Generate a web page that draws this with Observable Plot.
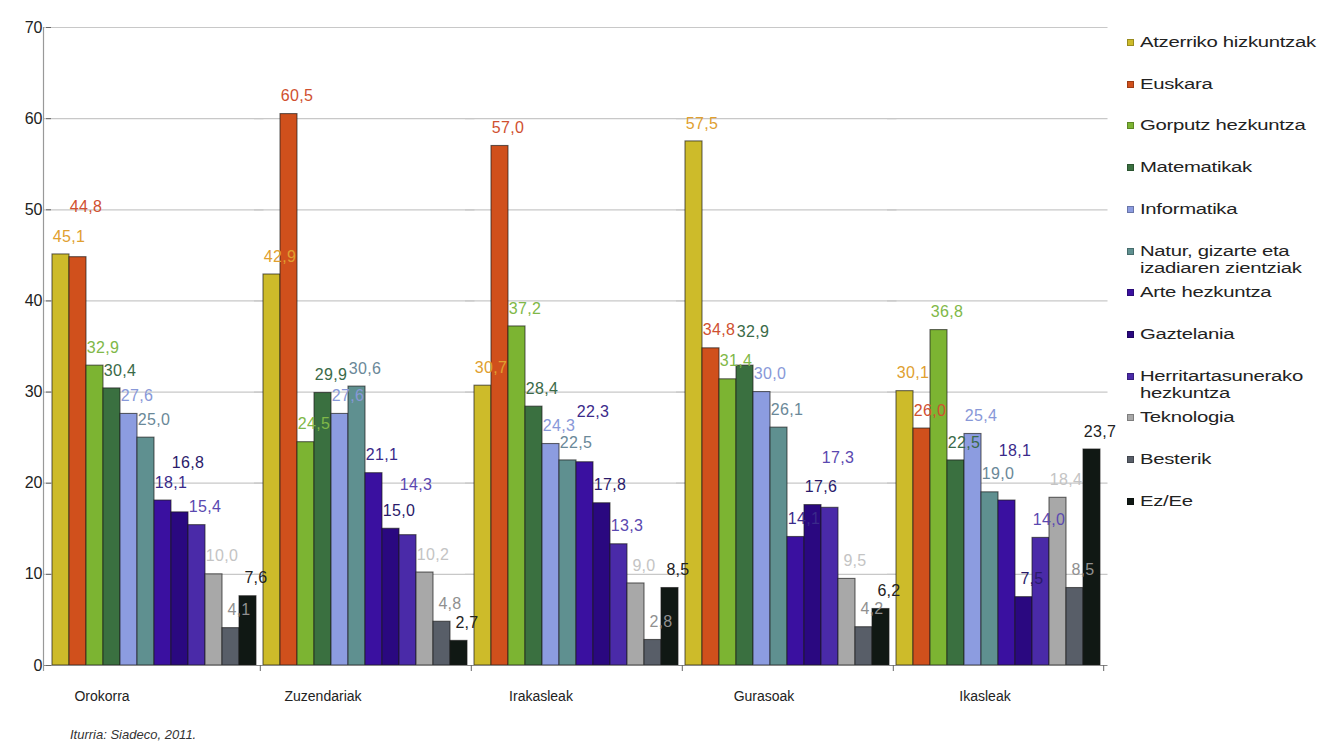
<!DOCTYPE html>
<html>
<head>
<meta charset="utf-8">
<script src="https://cdn.jsdelivr.net/npm/d3@7"></script>
<script src="https://cdn.jsdelivr.net/npm/@observablehq/plot@0.6"></script>
<style>
  html, body { margin: 0; padding: 0; background: #fff; }
  body { width: 1330px; height: 756px; position: relative; overflow: hidden; font-family: Arial, "Liberation Sans", sans-serif; }
  #chart { position: absolute; left: 0; top: 0; }
  #chart svg g.vlabels text { letter-spacing: 0.3px; }
  #legend { position: absolute; left: 1127px; top: 0; width: 203px; }
  .item { position: absolute; left: 0; display: flex; align-items: flex-start; font-size: 14px; line-height: 17px; color: #222; }
  .item .t { display: inline-block; transform: scaleX(1.45); transform-origin: 0 0; white-space: nowrap; letter-spacing: -0.2px; }
  .sw { width: 7px; height: 7px; margin-top: 5px; margin-right: 6px; flex: none; border: 1px solid rgba(0,0,0,0.25); box-sizing: border-box; }
  #caption { position: absolute; left: 70px; top: 727px; font-size: 13px; font-style: italic; color: #333; }
</style>
</head>
<body>
<div id="chart"></div>
<div id="legend"></div>
<div id="caption">Iturria: Siadeco, 2011.</div>
<script>
const groups = ["Orokorra", "Zuzendariak", "Irakasleak", "Gurasoak", "Ikasleak"];
const subjects = [
  "Atzerriko hizkuntzak", "Euskara", "Gorputz hezkuntza", "Matematikak", "Informatika",
  "Natur, gizarte eta izadiaren zientziak", "Arte hezkuntza", "Gaztelania",
  "Herritartasunerako hezkuntza", "Teknologia", "Besterik", "Ez/Ee"
];
const orokorra    = [45.1, 44.8, 32.9, 30.4, 27.6, 25.0, 18.1, 16.8, 15.4, 10.0, 4.1, 7.6];
const zuzendariak = [42.9, 60.5, 24.5, 29.9, 27.6, 30.6, 21.1, 15.0, 14.3, 10.2, 4.8, 2.7];
const irakasleak  = [30.7, 57.0, 37.2, 28.4, 24.3, 22.5, 22.3, 17.8, 13.3, 9.0, 2.8, 8.5];
const gurasoak    = [57.5, 34.8, 31.4, 32.9, 30.0, 26.1, 14.1, 17.6, 17.3, 9.5, 4.2, 6.2];
const ikasleak    = [30.1, 26.0, 36.8, 22.5, 25.4, 19.0, 18.1, 7.5, 14.0, 18.4, 8.5, 23.7];
const yTicks = [0, 10, 20, 30, 40, 50, 60, 70];

const barColors = ["#cdbb2a", "#d0501c", "#7cb432", "#3a7040", "#8c9ce0", "#5f9090",
                   "#3a10a0", "#2a0880", "#4a2aa8", "#a8a8a8", "#585e68", "#101814"];
const labelColors = ["#e0a030", "#d05030", "#80b848", "#3a6a48", "#8898d8", "#6a8898",
                     "#3a2a8a", "#2a1a6a", "#5a48b0", "#c4c4c4", "#909090", "#222222"];

const series = [orokorra, zuzendariak, irakasleak, gurasoak, ikasleak];

// layout
const W = 1330, H = 715, mTop = 27, mBottom = 50;
const pxPerUnit = (H - mTop - mBottom) / 70;
const baseDy = -18, levelStep = 16, minGap = 15;

// build rows; stagger value labels of neighbouring bars that would collide
const data = [];
groups.forEach((g, gi) => {
  let prevLy = null;
  subjects.forEach((s, si) => {
    const v = series[gi][si];
    const base = -v * pxPerUnit + baseDy;
    let level = 0, ly = base;
    while (prevLy !== null && Math.abs(ly - prevLy) < minGap && level < 3) { level++; ly = base - level * levelStep; }
    prevLy = ly;
    data.push({group: g, subject: s, value: v, si, level});
  });
});

const fmt = v => d3.format(".1f")(v).replace(".", ",");
// horizontal nudges of the group labels (styling, as in the source chart)
const groupLabelDx = [-52, -42, -35, -23, -13];

const labelMarks = [0, 1, 2, 3].map(lv => Plot.text(data.filter(d => d.level === lv), {
  fx: "group", x: "subject", y: "value", text: d => fmt(d.value), fill: d => labelColors[d.si],
  dx: 8, dy: baseDy - lv * levelStep, fontSize: 16, className: "vlabels"
}));

const chart = Plot.plot({
  width: W,
  height: H,
  marginLeft: 43,
  marginRight: 222,
  marginTop: mTop,
  marginBottom: mBottom,
  style: {fontFamily: "Arial, 'Liberation Sans', sans-serif", fontSize: "14px", color: "#222", background: "white"},
  fx: {domain: groups, paddingInner: 0.03, paddingOuter: 0.035, label: null, axis: null},
  x: {domain: subjects, padding: 0, axis: null},
  y: {domain: [0, 70], axis: null},
  color: {domain: subjects, range: barColors},
  marks: [
    Plot.ruleY(yTicks.slice(1), {y: d => d, stroke: "#c8c8c8", strokeWidth: 1.2, insetLeft: -8, insetRight: -7.5}),
    Plot.barY(data, {fx: "group", x: "subject", y: "value", fill: "subject", stroke: "#1a1a1a", strokeOpacity: 0.65, strokeWidth: 1.1}),
    Plot.ruleY([0], {stroke: "#888", strokeWidth: 1.2, insetLeft: -8, insetRight: -7.5}),
    Plot.ruleX(groups.slice(1), {fx: d => d, x: () => subjects[0], y1: () => 0, y2: () => 0, insetBottom: -6, dx: -11.7, stroke: "#666"}),
    Plot.ruleX([groups[groups.length - 1]], {fx: d => d, x: () => subjects[subjects.length - 1], y1: () => 0, y2: () => 0, insetBottom: -6, dx: 11.7, stroke: "#666"}),
    Plot.ruleX([groups[0]], {fx: d => d, x: () => subjects[0], y1: () => 70, y2: () => 0, insetBottom: -6, dx: -17.5, stroke: "#999", strokeWidth: 1.2}),
    ...labelMarks,
    Plot.axisY({ticks: yTicks, tickSize: 5, tickPadding: 4, fontSize: 16, tickFormat: d => d, label: null, stroke: "#666"}),
    ...groups.map((g, i) => Plot.text([g], {fx: d => d, text: d => d, frameAnchor: "bottom", dy: 35, dx: groupLabelDx[i], fontSize: 14, fill: "#222"}))
  ]
});
document.getElementById("chart").appendChild(chart);

const legend = document.getElementById("legend");
const legendLabels = [
  "Atzerriko hizkuntzak", "Euskara", "Gorputz hezkuntza", "Matematikak", "Informatika",
  "Natur, gizarte eta<br>izadiaren zientziak", "Arte hezkuntza", "Gaztelania",
  "Herritartasunerako<br>hezkuntza", "Teknologia", "Besterik", "Ez/Ee"
];
legendLabels.forEach((lab, i) => {
  const it = document.createElement("div");
  it.className = "item";
  it.style.top = (34 + i * 41.7) + "px";
  it.innerHTML = `<span class="sw" style="background:${barColors[i]}"></span><span class="t">${lab}</span>`;
  legend.appendChild(it);
});
</script>
</body>
</html>
